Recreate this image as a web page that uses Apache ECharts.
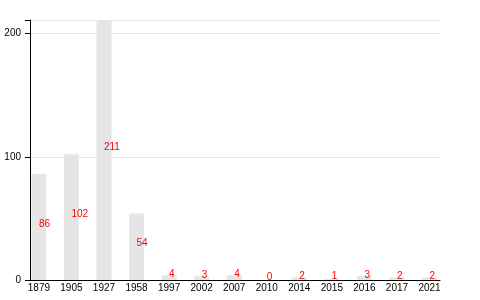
<!DOCTYPE html>
<html>
<head>
<meta charset="utf-8">
<script src="https://cdn.jsdelivr.net/npm/echarts@6/dist/echarts.min.js"></script>
<style>
html,body{margin:0;padding:0;background:#fff;}
#c{width:480px;height:300px;}
</style>
</head>
<body>
<div id="c"></div>
<script>
const categories = ['1879','1905','1927','1958','1997','2002','2007','2010','2014','2015','2016','2017','2021'];
const values = [86, 102, 211, 54, 4, 3, 4, 0, 2, 1, 3, 2, 2];
const yTicks = [0, 100, 200];

const FONT = 'Liberation Sans, Arial, Helvetica, sans-serif';
const chart = echarts.init(document.getElementById('c'), null, {renderer: 'canvas'});
chart.setOption({
  animation: false,
  backgroundColor: '#fff',
  textStyle: {fontFamily: FONT},
  grid: [
    {left: 30, right: 40, top: 20, bottom: 20},
    {left: 22.6, right: 34.2, top: 20, bottom: 20}
  ],
  xAxis: [
    {gridIndex: 0, type: 'value', min: 0, max: 1,
     axisLine: {show: true, onZero: false, lineStyle: {color: '#000', width: 1}},
     axisTick: {show: false}, axisLabel: {show: false}, splitLine: {show: false}},
    {gridIndex: 1, type: 'category', data: categories,
     axisLine: {show: false}, axisTick: {show: false},
     axisLabel: {show: true, color: '#000', fontSize: 10, fontFamily: FONT, margin: 3, interval: 0},
     splitLine: {show: false}}
  ],
  yAxis: [
    {gridIndex: 0, type: 'value', min: yTicks[0], max: 211, interval: 100,
     axisLine: {show: true, lineStyle: {color: '#000', width: 1}},
     axisTick: {show: true, length: 5, lineStyle: {color: '#000'}},
     axisLabel: {color: '#000', fontSize: 10, fontFamily: FONT, margin: 9,
                 formatter: v => yTicks.includes(v) ? String(v) : ''},
     splitLine: {show: true, lineStyle: {color: '#e6e6e6', width: 1}}},
    {gridIndex: 1, type: 'value', min: 0, max: 211, show: false, splitLine: {show: false}}
  ],
  series: [{
    type: 'bar',
    xAxisIndex: 1, yAxisIndex: 1,
    data: values,
    barWidth: 15,
    itemStyle: {color: '#e5e5e5'},
    label: {show: true, position: 'inside', align: 'left', verticalAlign: 'middle',
            offset: [0, -3], color: '#ff0000', fontSize: 10, fontFamily: FONT}
  }]
});
</script>
</body>
</html>
